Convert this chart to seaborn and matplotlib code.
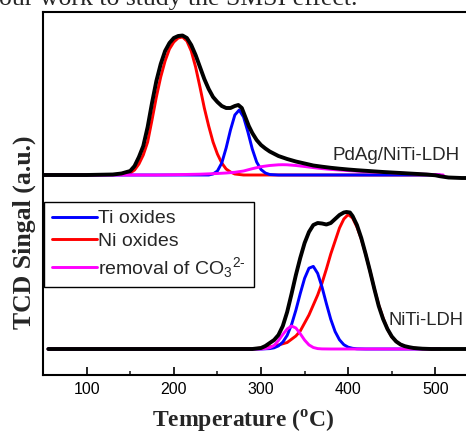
import numpy as np
import matplotlib
matplotlib.use("Agg")
import matplotlib.pyplot as plt
import seaborn as sns
from matplotlib.ticker import MultipleLocator, NullLocator

# ---------------- data (a.u.) ----------------
# Upper trace: PdAg/NiTi-LDH
top_black_T = [50, 100, 130, 140, 150, 155, 160, 165, 170, 175, 180, 185, 190, 195, 200, 205, 210,
               215, 220, 225, 230, 235, 240, 245, 250, 255, 260, 265, 270, 274, 278, 282, 286, 290,
               295, 300, 305, 310, 320, 330, 340, 350, 360, 370, 380, 390, 400, 410, 420, 430, 440,
               450, 460, 470, 480, 490, 500, 505, 515, 530, 555]
top_black = [0, 0, 0.5, 1.5, 4, 9, 18, 29, 48, 72, 94, 111, 124, 132, 137, 139, 139.5,
             137, 130, 120, 108, 96, 86, 78, 73, 69, 67, 67, 69, 70, 67, 58, 49, 42,
             35, 30, 26.5, 23.5, 19, 16, 13.5, 11.5, 9.5, 8.3, 7.2, 6.3, 5.5, 4.8, 4.2, 3.6, 3,
             2.5, 2, 1.5, 1, 0.5, -0.3, -1.2, -2.5, -3, -3]

top_red_T = [50, 140, 150, 155, 160, 165, 170, 175, 180, 185, 190, 195, 200, 205, 210, 215, 220,
             225, 230, 235, 240, 245, 250, 255, 260, 265, 270, 280, 505]
top_red = [0, 0.5, 2, 5, 11, 20, 33, 55, 78, 98, 114, 126, 133, 137, 138, 134, 124,
           108, 88, 67, 49, 33, 21, 12, 6, 3, 1, 0, 0]

top_blue_T = [50, 240, 245, 250, 255, 260, 265, 270, 275, 280, 285, 290, 295, 300, 305, 310, 320, 505]
top_blue = [0, 0, 1, 4, 12, 27, 45, 60, 65, 58, 43, 26, 13, 5.5, 2, 0.5, 0, 0]

top_mag_T = [50, 180, 200, 230, 250, 260, 270, 280, 290, 300, 310, 320, 325, 330, 340, 350, 360,
             370, 380, 390, 400, 420, 440, 460, 480, 500, 509]
top_mag = [0, 0, 0.3, 0.8, 1.5, 2, 2.7, 4, 6.3, 8.3, 9.5, 10.2, 10.3, 10.2, 9.5, 8.5, 7.4,
           6.4, 5.6, 5, 4.4, 3.3, 2.6, 1.8, 1, 0.4, 0]

# Lower trace: NiTi-LDH
bot_black_T = [56, 290, 300, 305, 310, 315, 320, 325, 330, 335, 340, 345, 350, 355, 360, 365, 370,
               375, 380, 385, 390, 395, 398, 402, 405, 410, 415, 420, 425, 430, 435, 440, 445, 450,
               455, 460, 465, 470, 475, 485, 495, 555]
bot_black = [0, 0, 1, 3, 6, 9, 14, 23, 37, 55, 74, 91, 106, 117, 124, 126, 125.5,
             124.5, 126, 130, 134, 136.5, 137, 136.5, 133, 124, 111, 95, 78, 60, 43, 30, 20, 12.5,
             7.5, 4.5, 2.8, 1.8, 1, 0.3, 0, 0]

bot_red_T = [56, 290, 300, 310, 320, 330, 340, 345, 350, 355, 360, 365, 370, 375, 380, 385, 390,
             395, 400, 405, 410, 415, 420, 425, 430, 435, 440, 445, 450, 455, 460, 465, 470, 480,
             490, 505]
bot_red = [0, 0, 1, 2, 4, 6.5, 13, 18, 26, 34, 44, 54, 66, 80, 95, 108, 121,
           130, 134.5, 131, 122, 110, 95, 78, 60, 44, 31, 20, 12, 7.5, 4.5, 2.5, 1.5, 0.5,
           0, 0]

bot_blue_T = [56, 300, 310, 315, 320, 325, 330, 335, 340, 345, 350, 355, 360, 365, 370, 375, 380,
              385, 390, 395, 400, 405, 410, 420, 505]
bot_blue = [0, 0, 0.4, 1.2, 3.1, 6.9, 13.6, 24.3, 38.8, 55.4, 70.7, 80.8, 82.6, 75.6, 61.9, 45.3, 29.7,
            17.4, 9.2, 4.3, 1.8, 0.7, 0.2, 0, 0]

bot_mag_T = [56, 295, 300, 305, 310, 315, 320, 325, 330, 335, 340, 345, 350, 355, 360, 365, 370, 380, 505]
bot_mag = [0, 0, 0.1, 0.4, 1.3, 3.5, 8.5, 14.5, 20, 23, 21, 15.3, 8.9, 4.1, 1.5, 0.4, 0.1, 0, 0]

legend_labels = ["Ti oxides", "Ni oxides", "removal of CO$_3$$^{2\u2010}$"]
sample_labels = ["PdAg/NiTi-LDH", "NiTi-LDH"]
x_ticks = [100, 200, 300, 400, 500]

# ---------------- style ----------------
sns.set_style("ticks")
plt.rcParams["font.family"] = ["Liberation Sans", "DejaVu Sans"]
plt.rcParams["mathtext.fontset"] = "custom"
plt.rcParams["mathtext.rm"] = "Liberation Sans"
plt.rcParams["mathtext.it"] = "Liberation Sans:italic"
plt.rcParams["mathtext.bf"] = "Liberation Serif:bold"

TOP_OFF = 200
BOT_OFF = 26
LW_C = 2.1
LW_K = 2.8

fig = plt.figure(figsize=(4.66, 4.33), dpi=100)
ax = fig.add_axes([43 / 466, 1 - 375 / 433, 436 / 466, 363 / 433])


def draw(T, v, off, color, lw):
    sns.lineplot(x=np.asarray(T, float), y=np.asarray(v, float) + off, color=color,
                 linewidth=lw, ax=ax, estimator=None, sort=False)
    return ax.lines[-1]


# upper trace
draw(top_red_T, top_red, TOP_OFF, "#ff0000", LW_C)
draw(top_blue_T, top_blue, TOP_OFF, "#0000ff", LW_C)
draw(top_mag_T, top_mag, TOP_OFF, "#ff00ff", LW_C)
draw(top_black_T, top_black, TOP_OFF, "black", LW_K)
# lower trace
h_red = draw(bot_red_T, bot_red, BOT_OFF, "#ff0000", LW_C)
h_blue = draw(bot_blue_T, bot_blue, BOT_OFF, "#0000ff", LW_C)
h_mag = draw(bot_mag_T, bot_mag, BOT_OFF, "#ff00ff", LW_C)
draw(bot_black_T, bot_black, BOT_OFF, "black", LW_K)

ax.set_xlim(50, 550)
ax.set_ylim(0, 363)

ax.xaxis.set_major_locator(MultipleLocator(100))
ax.xaxis.set_minor_locator(MultipleLocator(50))
ax.set_xticks(x_ticks)
ax.set_xticklabels([str(t) for t in x_ticks])
ax.yaxis.set_major_locator(NullLocator())
ax.yaxis.set_minor_locator(NullLocator())
ax.tick_params(axis="x", which="major", direction="in", length=5.5, width=1.2,
               labelsize=11.5, pad=5, top=False, colors="black")
ax.tick_params(axis="x", which="minor", direction="in", length=3, width=1.2, top=False)
ax.tick_params(axis="y", left=False, labelleft=False)
for s in ax.spines.values():
    s.set_linewidth(1.5)
    s.set_color("black")
    s.set_visible(True)

ax.text(382, 215, sample_labels[0], fontsize=13.5, ha="left", va="baseline")
ax.text(446, 50, sample_labels[1], fontsize=13.2, ha="left", va="baseline")

ax.set_xlabel(r"Temperature ($^{\mathbf{o}}$C)", fontsize=17, fontweight="bold",
              family="Liberation Serif")
ax.xaxis.set_label_coords((243 - 43) / 436, (375 - 427) / 363)
ax.xaxis.label.set_va("baseline")
ax.set_ylabel("TCD Singal (a.u.)", fontsize=18.5, fontweight="bold", family="Liberation Serif")
ax.yaxis.set_label_coords((24 - 43) / 436, (375 - 232.5) / 363)
ax.yaxis.label.set_va("center")

leg = ax.legend([h_blue, h_red, h_mag], legend_labels, loc="upper left",
                bbox_to_anchor=(44 / 466, 1 - 202 / 433), bbox_transform=fig.transFigure,
                borderaxespad=0, frameon=True, fancybox=False, edgecolor="black",
                framealpha=1, fontsize=14, handlelength=2.3, handletextpad=0.1,
                labelspacing=0.25, borderpad=0.4)
leg.get_frame().set_linewidth(1.0)

fig.text(-0.003, 1 - 5.5 / 433, "our work to study the SMSI effect.", family="Liberation Serif",
         fontsize=18.5, ha="left", va="baseline")

fig.savefig("out.png", dpi=100)
